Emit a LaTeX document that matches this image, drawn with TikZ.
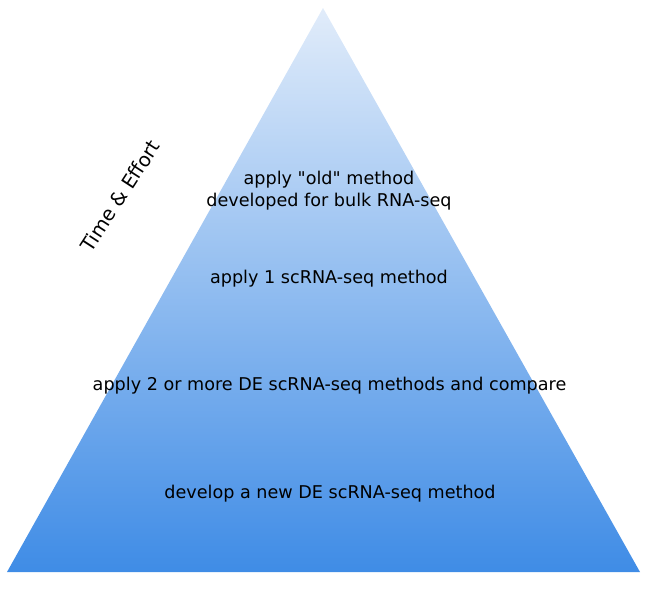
\documentclass[tikz,border=0pt]{standalone}
\usepackage{fontspec}
\setmainfont{DejaVu Sans}[Ligatures=TeXOff]
\definecolor{topblue}{RGB}{225,236,250}
\definecolor{botblue}{RGB}{63,140,230}
\begin{document}
\begin{tikzpicture}[x=1pt,y=1pt,
  lbl/.style={font=\fontsize{17.6}{22}\selectfont, align=center, inner sep=0pt}]
\useasboundingbox (0,0) rectangle (655,590);
\coordinate (apex) at (323,582);
\coordinate (bl) at (7,18);
\coordinate (br) at (640,18);
\shade[top color=topblue, bottom color=botblue] (apex) -- (br) -- (bl) -- cycle;
\node[lbl] (old) at (329,399) {apply "old" method\\developed for bulk RNA-seq};
\node[lbl] (one) at (329,311) {apply 1 scRNA-seq method};
\node[lbl] (two) at (329.5,204) {apply 2 or more DE scRNA-seq methods and compare};
\node[lbl] (dev) at (330,96) {develop a new DE scRNA-seq method};
\node[lbl, font=\fontsize{19.5}{24}\selectfont, rotate=57] (time) at (120,394) {Time \& Effort};
\end{tikzpicture}
\end{document}
